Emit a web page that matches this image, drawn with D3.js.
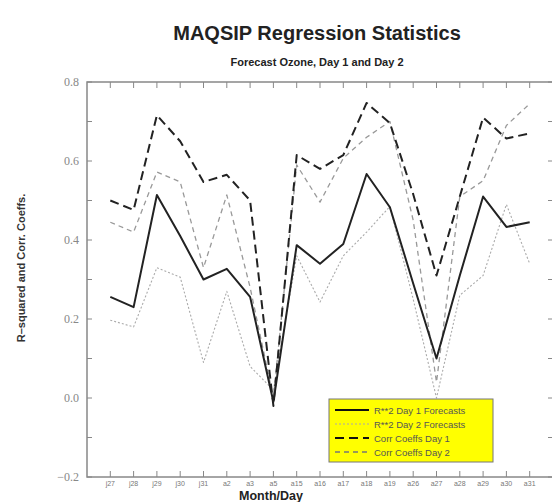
<!DOCTYPE html>
<html>
<head>
<meta charset="utf-8">
<script src="https://cdn.jsdelivr.net/npm/d3@7"></script>
<style>
  body { margin: 0; background: #fff; }
  svg { display: block; }
</style>
</head>
<body>
<svg id="chart"></svg>
<script>
const days = ["j27", "j28", "j29", "j30", "j31", "a2", "a3", "a5", "a15", "a16",
              "a17", "a18", "a19", "a26", "a27", "a28", "a29", "a30", "a31"];
const r2Day1 = [0.256, 0.23, 0.514, 0.41, 0.30, 0.327, 0.256, -0.01, 0.387, 0.34,
                0.39, 0.567, 0.483, 0.29, 0.10, 0.31, 0.51, 0.433, 0.445];
const r2Day2 = [0.197, 0.18, 0.33, 0.306, 0.09, 0.27, 0.08, 0.02, 0.36, 0.243,
                0.36, 0.42, 0.485, 0.25, 0.0, 0.26, 0.31, 0.49, 0.34];
const corrDay1 = [0.50, 0.476, 0.716, 0.65, 0.547, 0.565, 0.50, -0.02, 0.615, 0.58,
                  0.615, 0.747, 0.696, 0.516, 0.31, 0.51, 0.71, 0.657, 0.67];
const corrDay2 = [0.445, 0.42, 0.572, 0.547, 0.33, 0.514, 0.28, 0.0, 0.59, 0.496,
                  0.607, 0.66, 0.70, 0.45, 0.04, 0.51, 0.55, 0.69, 0.745];
const yTicks = [-0.2, 0.0, 0.2, 0.4, 0.6, 0.8];
const legendNames = ["R**2 Day 1 Forecasts", "R**2 Day 2 Forecasts", "Corr Coeffs Day 1", "Corr Coeffs Day 2"];

const width = 552, height = 502;
const plotL = 87, plotR = 553, plotT = 82, plotB = 477;

const svg = d3.select("#chart").attr("width", width).attr("height", height);

const x = d3.scaleLinear().domain([-1, days.length]).range([plotL, plotR]);
const y = d3.scaleLinear().domain([-0.2, 0.8]).range([plotB, plotT]);

// titles
svg.append("text")
  .attr("x", 317).attr("y", 40)
  .attr("text-anchor", "middle")
  .style("font-family", "Liberation Sans, Arial, sans-serif")
  .style("font-weight", "bold").style("font-size", "20px")
  .attr("fill", "#222")
  .text("MAQSIP Regression Statistics");

svg.append("text")
  .attr("x", 317).attr("y", 66)
  .attr("text-anchor", "middle")
  .style("font-family", "Liberation Sans, Arial, sans-serif")
  .style("font-weight", "bold").style("font-size", "11px")
  .attr("fill", "#222")
  .text("Forecast Ozone, Day 1 and Day 2");

// frame
const axisColor = "#888";
svg.append("rect")
  .attr("x", plotL).attr("y", plotT)
  .attr("width", plotR - plotL).attr("height", plotB - plotT)
  .attr("fill", "none").attr("stroke", axisColor).attr("stroke-width", 1.5);

// y ticks (major + minor, inward)
const minor = d3.range(-2, 9).map(d => d / 10);
svg.append("g").selectAll("line").data(minor).join("line")
  .attr("x1", plotL).attr("x2", plotL + 5)
  .attr("y1", d => y(d)).attr("y2", d => y(d))
  .attr("stroke", axisColor);
svg.append("g").selectAll("line").data(minor).join("line")
  .attr("x1", plotR).attr("x2", plotR - 5)
  .attr("y1", d => y(d)).attr("y2", d => y(d))
  .attr("stroke", axisColor);
svg.append("g").selectAll("text").data(yTicks).join("text")
  .attr("x", plotL - 8).attr("y", d => y(d) + 4)
  .attr("text-anchor", "end")
  .style("font-family", "Liberation Serif, Times New Roman, serif")
  .style("font-size", "12px")
  .attr("fill", "#888")
  .text(d => d3.format(".1f")(d));

// x ticks
svg.append("g").selectAll("line").data(days).join("line")
  .attr("x1", (d, i) => x(i)).attr("x2", (d, i) => x(i))
  .attr("y1", plotB).attr("y2", plotB - 6)
  .attr("stroke", axisColor);
svg.append("g").selectAll("line").data(days).join("line")
  .attr("x1", (d, i) => x(i)).attr("x2", (d, i) => x(i))
  .attr("y1", plotT).attr("y2", plotT + 6)
  .attr("stroke", axisColor);
svg.append("g").selectAll("text").data(days).join("text")
  .attr("x", (d, i) => x(i)).attr("y", plotB + 9)
  .attr("text-anchor", "middle")
  .style("font-family", "Liberation Sans, Arial, sans-serif")
  .style("font-size", "7px")
  .attr("fill", "#777")
  .text(d => d);

// axis titles
svg.append("text")
  .attr("x", 271).attr("y", 500)
  .attr("text-anchor", "middle")
  .style("font-family", "Liberation Sans, Arial, sans-serif")
  .style("font-weight", "bold").style("font-size", "12.5px")
  .attr("fill", "#222")
  .text("Month/Day");

svg.append("text")
  .attr("transform", "translate(25,268) rotate(-90)")
  .attr("text-anchor", "middle")
  .style("font-family", "Liberation Sans, Arial, sans-serif")
  .style("font-weight", "bold").style("font-size", "11px")
  .attr("fill", "#333")
  .text("R\u2013squared and Corr. Coeffs.");

// series
const series = [
  { values: corrDay2, color: "#999", width: 1.3, dash: "5,4" },
  { values: r2Day2, color: "#aaa", width: 1.1, dash: "2,2" },
  { values: corrDay1, color: "#222", width: 2, dash: "9,5" },
  { values: r2Day1, color: "#222", width: 2, dash: null }
];

const line = d3.line().x((d, i) => x(i)).y(d => y(d));

svg.append("g").selectAll("path").data(series).join("path")
  .attr("d", d => line(d.values))
  .attr("fill", "none")
  .attr("stroke", d => d.color)
  .attr("stroke-width", d => d.width)
  .attr("stroke-dasharray", d => d.dash)
  .attr("stroke-linejoin", "round");

// legend
const legendStyles = [
  { color: "#111", width: 2, dash: null },
  { color: "#aaa", width: 1.1, dash: "2,2" },
  { color: "#111", width: 2.2, dash: "9,5" },
  { color: "#777", width: 1.3, dash: "5,4" }
];
const lg = svg.append("g").attr("transform", "translate(329,399)");
lg.append("rect").attr("width", 164).attr("height", 63)
  .attr("fill", "#ffff00").attr("stroke", "#777").attr("stroke-width", 1);
const rows = lg.selectAll("g").data(legendNames).join("g")
  .attr("transform", (d, i) => `translate(0,${11 + i * 14})`);
rows.append("line")
  .attr("x1", 6).attr("x2", 40).attr("y1", 0).attr("y2", 0)
  .attr("stroke", (d, i) => legendStyles[i].color)
  .attr("stroke-width", (d, i) => legendStyles[i].width)
  .attr("stroke-dasharray", (d, i) => legendStyles[i].dash);
rows.append("text")
  .attr("x", 45).attr("y", 3.5)
  .style("font-family", "Liberation Sans, Arial, sans-serif")
  .style("font-size", "9.5px")
  .attr("fill", "#555")
  .text(d => d);
</script>
</body>
</html>
